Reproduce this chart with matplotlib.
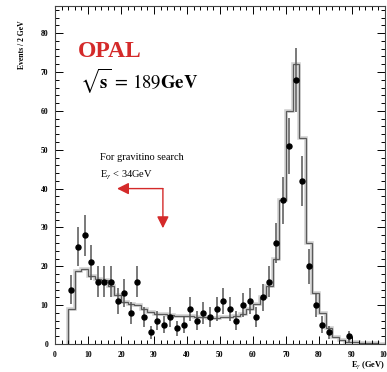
import numpy as np
import matplotlib
matplotlib.use("Agg")
import matplotlib.pyplot as plt
from matplotlib.ticker import MultipleLocator

plt.rcParams['font.family'] = ['Liberation Serif', 'DejaVu Serif']
plt.rcParams['mathtext.fontset'] = 'stix'

# photon energy spectrum, 2 GeV bins starting at 4 GeV
bin_lo = 4
bin_w = 2

# observed events per bin (4-6, 6-8, ... 88-90)
data_counts = [14, 25, 28, 21, 16, 16, 16, 11, 13, 8,
               16, 7, 3, 6, 5, 7, 4, 5, 9, 6,
               8, 7, 9, 11, 9, 6, 10, 11, 7, 12,
               16, 26, 37, 51, 68, 42, 20, 10, 5, 3,
               0, 0, 2]

# expected events per bin from simulation (4-6 ... 98-100)
mc_counts = [9, 18.8, 19.3, 17.5, 16.7, 16.5, 15, 12.5, 10.8, 10.3,
             10, 9, 8.2, 7.8, 7.7, 7.5, 7.3, 7.2, 7.2, 7.0,
             6.9, 6.8, 6.8, 6.9, 7.0, 7.3, 7.8, 9, 10.3, 12,
             15, 22, 37, 60, 72, 53, 26, 13, 8, 4,
             1.8, 1.0, 0.6, 0.4, 0.3, 0.2, 0.15, 0.1]

data_counts = np.array(data_counts, dtype=float)
mc_counts = np.array(mc_counts, dtype=float)
data_x = bin_lo + bin_w * (np.arange(len(data_counts)) + 0.5)
mc_edges = bin_lo + bin_w * np.arange(len(mc_counts) + 1)

fig = plt.figure(figsize=(3.87, 3.72), dpi=100)
ax = fig.add_axes([0.1421, 0.0753, 0.8527, 0.9086])

# simulated spectrum: light grey shadow under a thin grey outline
ax.stairs(mc_counts, mc_edges, color='#d2d2d2', lw=2.6, baseline=0)
ax.stairs(mc_counts, mc_edges, color='#5a5a5a', lw=0.9, baseline=0)

# data points with poisson errors
keep = data_counts > 0
ax.errorbar(data_x[keep], data_counts[keep], yerr=np.sqrt(data_counts[keep]),
            fmt='o', ms=3.6, color='black', ecolor='#555555', elinewidth=1.1,
            capsize=0, zorder=5)

ax.set_xlim(0, 100)
ax.set_ylim(0, 87)
ax.xaxis.set_major_locator(MultipleLocator(10))
ax.xaxis.set_minor_locator(MultipleLocator(2))
ax.yaxis.set_major_locator(MultipleLocator(10))
ax.yaxis.set_minor_locator(MultipleLocator(2))
ax.tick_params(which='both', direction='in', top=True, right=True,
               labelsize=5.5, width=0.7, pad=5)
ax.tick_params(which='major', length=6)
ax.tick_params(which='minor', length=3)
for lab in ax.get_xticklabels() + ax.get_yticklabels():
    lab.set_fontweight('bold')
for s in ax.spines.values():
    s.set_linewidth(0.8)
    s.set_color('#444444')

fig.text(0.057, 0.88, 'Events / 2 GeV', rotation=90, fontsize=5.5,
         ha='center', va='center', fontweight='bold')
fig.text(0.995, 0.018, r'E$_\gamma$ (GeV)', fontsize=6, ha='right',
         va='center', fontweight='bold')

ax.text(7.0, 73.8, 'OPAL', color='#d42a2a', fontsize=17,
        fontweight='bold', va='baseline')
ax.text(7.6, 65.8, r'$\sqrt{\mathbf{s}}\,=\,189\mathbf{GeV}$', fontsize=13.5,
        va='baseline')

ax.text(13.6, 48, 'For gravitino search', fontsize=7.5, va='center')
ax.text(13.6, 43.4, r'E$_\gamma$ < 34GeV', fontsize=7.5, va='center')

# selection arrows
arrow_kw = dict(arrowstyle='-|>,head_length=0.7,head_width=0.35',
                color='#d42a2a', lw=1.0, shrinkA=0, shrinkB=0)
ax.annotate('', xy=(18.8, 40), xytext=(32.7, 40), arrowprops=arrow_kw)
ax.annotate('', xy=(32.7, 29.8), xytext=(32.7, 40), arrowprops=arrow_kw)

fig.savefig('out.png', dpi=100)
